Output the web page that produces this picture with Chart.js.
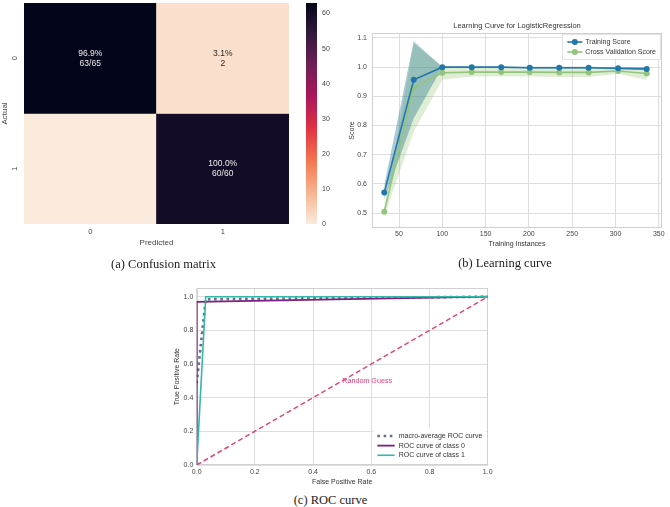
<!DOCTYPE html>
<html>
<head>
<meta charset="utf-8">
<script src="https://cdn.jsdelivr.net/npm/chart.js@4.4.0/dist/chart.umd.min.js"></script>
<style>
  html, body { margin: 0; padding: 0; background: #fff; width: 670px; height: 507px; overflow: hidden; }
  canvas { position: absolute; }
  .cap { position: absolute; font-family: "Liberation Serif", "DejaVu Serif", serif; font-size: 12.5px;
         color: #222; white-space: nowrap; transform: translate(-50%, -50%); }
</style>
</head>
<body>
<canvas id="cm" width="300" height="250" style="left:0;top:0"></canvas>
<canvas id="cbar" width="40" height="250" style="left:300px;top:0"></canvas>
<canvas id="lc" width="330" height="252" style="left:340px;top:0"></canvas>
<canvas id="roc" width="340" height="220" style="left:160px;top:270px"></canvas>
<div class="cap" style="left:163.5px;top:264px">(a) Confusion matrix</div>
<div class="cap" style="left:505px;top:263px">(b) Learning curve</div>
<div class="cap" style="left:330.5px;top:500px">(c) ROC curve</div>
<script>
// ---- confusion matrix ----
const cmClasses = ['0', '1'];
const cmCounts = [[63, 2], [0, 60]];          // rows: actual, cols: predicted
const cbTicks = [0, 10, 20, 30, 40, 50, 60];

// ---- learning curve ----
const trainSizes = [33, 67, 100, 134, 168, 201, 235, 269, 303, 336];
const trainMean = [0.571, 0.957, 1.0, 1.0, 1.0, 0.998, 0.998, 0.998, 0.996, 0.994];
const trainStd = [0.025, 0.132, 0.0, 0.0, 0.0, 0.003, 0.003, 0.003, 0.004, 0.005];
const cvMean = [0.505, 0.930, 0.981, 0.983, 0.983, 0.983, 0.982, 0.982, 0.987, 0.978];
const cvStd = [0.015, 0.15, 0.024, 0.015, 0.015, 0.015, 0.016, 0.016, 0.01, 0.022];
const lcXTicks = [50, 100, 150, 200, 250, 300, 350];
const lcYTicks = [0.5, 0.6, 0.7, 0.8, 0.9, 1.0, 1.1];

// ---- ROC ----
const macroFpr = [0, 0.031, 1];
const macroTpr = [0.485, 0.985, 1];
const class0Fpr = [0, 0, 1];
const class0Tpr = [0, 0.969, 1];
const class1Fpr = [0, 0.031, 1];
const class1Tpr = [0, 1, 1];
const guessFpr = [0, 1];
const guessTpr = [0, 1];
const rocTicks = [0, 0.2, 0.4, 0.6, 0.8, 1.0];

const FONT = '"Liberation Sans", Arial, sans-serif';
Chart.defaults.font.family = FONT;
Chart.defaults.color = '#444';
Chart.defaults.animation = false;
Chart.defaults.responsive = false;
Chart.defaults.devicePixelRatio = 1;
Chart.defaults.plugins.legend.display = false;
Chart.defaults.plugins.tooltip.enabled = false;

// rocket colormap, t=0 dark .. t=1 light
const rocketStops = [
  [0, '#03051a'], [1 / 7, '#35193e'], [2 / 7, '#701f57'], [3 / 7, '#ad1759'],
  [4 / 7, '#e13342'], [5 / 7, '#f37651'], [6 / 7, '#f6b48f'], [1, '#faebdd']
];
function hex(c) { return [1, 3, 5].map(i => parseInt(c.substr(i, 2), 16)); }
function rocketR(x) {            // x=0 light, x=1 dark
  const t = 1 - x;
  for (let i = 1; i < rocketStops.length; i++) {
    const [t1, c1] = rocketStops[i];
    if (t <= t1) {
      const [t0, c0] = rocketStops[i - 1];
      const f = (t - t0) / (t1 - t0);
      const a = hex(c0), b = hex(c1);
      return 'rgb(' + a.map((v, k) => Math.round(v + (b[k] - v) * f)).join(',') + ')';
    }
  }
  return rocketStops[rocketStops.length - 1][1];
}
const cmMax = Math.max(...cmCounts.flat());

const cellText = {
  id: 'cellText',
  afterDatasetsDraw(chart) {
    const ctx = chart.ctx;
    ctx.save();
    ctx.font = '8.5px ' + FONT;
    ctx.textAlign = 'center';
    ctx.textBaseline = 'middle';
    cmCounts.forEach((row, r) => {
      const total = row.reduce((s, v) => s + v, 0);
      const meta = chart.getDatasetMeta(r);
      row.forEach((v, c) => {
        if (!v) return;
        const el = meta.data[c];
        const cy = (el.y + el.base) / 2;
        ctx.fillStyle = v / cmMax > 0.5 ? '#eeeeee' : '#262626';
        ctx.fillText((100 * v / total).toFixed(1) + '%', el.x, cy - 5);
        ctx.fillText(r === c ? v + '/' + total : String(v), el.x, cy + 5);
      });
    });
    ctx.restore();
  }
};

new Chart(document.getElementById('cm'), {
  type: 'bar',
  data: {
    labels: cmClasses,
    datasets: cmCounts.map((row, r) => ({
      label: 'Actual ' + cmClasses[r],
      data: row.map(() => [r, r + 1]),
      backgroundColor: row.map(v => rocketR(v / cmMax)),
      borderWidth: 0, barPercentage: 1, categoryPercentage: 1, grouped: false
    }))
  },
  options: {
    layout: { padding: { left: 0, top: 3, right: 11, bottom: 0 } },
    scales: {
      x: {
        grid: { display: false, drawTicks: false }, border: { display: false },
        ticks: { padding: 3.5, font: { size: 7.5 } },
        title: { display: true, text: 'Predicted', font: { size: 8 }, padding: { top: 0, bottom: 2 } },
        afterFit: s => { s.height = 26; s.paddingLeft = 0; s.paddingRight = 0; }
      },
      y: {
        type: 'linear', reverse: true, min: 0, max: 2,
        grid: { display: false, drawTicks: false }, border: { display: false },
        afterBuildTicks: s => { s.ticks = cmClasses.map((c, i) => ({ value: i + 0.5 })); },
        ticks: { callback: v => cmClasses[Math.floor(v)], minRotation: 90, maxRotation: 90,
                 crossAlign: 'center', padding: 7, font: { size: 7.5 } },
        title: { display: true, text: 'Actual', font: { size: 8 }, padding: { top: 0, bottom: 0 } },
        afterFit: s => { s.width = 24; s.paddingTop = 0; s.paddingBottom = 0; }
      }
    }
  },
  plugins: [cellText]
});

new Chart(document.getElementById('cbar'), {
  type: 'bar',
  data: {
    labels: [''],
    datasets: [{
      data: [cmMax], borderWidth: 0, barPercentage: 1, categoryPercentage: 1,
      backgroundColor: c => {
        const a = c.chart.chartArea;
        if (!a) return rocketR(0.5);
        const g = c.chart.ctx.createLinearGradient(0, a.bottom, 0, a.top);
        rocketStops.forEach(([t, col]) => g.addColorStop(1 - t, col));
        return g;
      }
    }]
  },
  options: {
    layout: { padding: { left: 6, top: 3, right: 0, bottom: 26 } },
    scales: {
      x: { display: false },
      y: {
        position: 'right', min: 0, max: cmMax,
        grid: { display: false, drawTicks: false }, border: { display: false },
        afterBuildTicks: s => { s.ticks = cbTicks.map(v => ({ value: v })); },
        ticks: { padding: 5, font: { size: 7 } },
        afterFit: s => { s.width = 23; s.paddingTop = 0; s.paddingBottom = 0; }
      }
    }
  }
});

// frame around plot area
const frame = {
  id: 'frame',
  beforeDatasetsDraw(chart) {
    const { ctx, chartArea: a } = chart;
    ctx.save();
    ctx.strokeStyle = '#d0d0d0';
    ctx.lineWidth = 1;
    ctx.strokeRect(Math.round(a.left) + 0.5, Math.round(a.top) + 0.5,
                   Math.round(a.right - a.left) - 1, Math.round(a.bottom - a.top) - 1);
    ctx.restore();
  }
};

// legend drawn inside the plot area
const insideLegend = {
  id: 'insideLegend',
  afterDatasetsDraw(chart, args, o) {
    const { ctx, chartArea: a } = chart;
    const items = chart.data.datasets.filter(d => d.inLegend);
    ctx.save();
    ctx.font = o.fontSize + 'px ' + FONT;
    const tw = Math.max(...items.map(d => ctx.measureText(d.label).width));
    const w = o.padX * 2 + o.sample + o.gap + tw;
    const h = o.padY * 2 + o.row * items.length;
    const x0 = a.right - o.margin - w;
    const y0 = o.top ? a.top + o.margin : a.bottom - o.margin - h;
    ctx.fillStyle = '#fff';
    ctx.fillRect(x0, y0, w, h);
    if (o.border) {
      ctx.strokeStyle = o.border;
      ctx.strokeRect(Math.round(x0) + 0.5, Math.round(y0) + 0.5, Math.round(w) - 1, Math.round(h) - 1);
    }
    items.sort((p, q) => p.inLegend - q.inLegend).forEach((d, i) => {
      const cy = y0 + o.padY + o.row * (i + 0.5);
      const sx = x0 + o.padX;
      ctx.strokeStyle = d.borderColor;
      ctx.lineWidth = d.borderWidth;
      ctx.setLineDash(d.borderDash || []);
      ctx.beginPath(); ctx.moveTo(sx, cy); ctx.lineTo(sx + o.sample, cy); ctx.stroke();
      ctx.setLineDash([]);
      if (d.pointRadius) {
        ctx.fillStyle = d.borderColor;
        ctx.beginPath(); ctx.arc(sx + o.sample / 2, cy, d.pointRadius, 0, Math.PI * 2); ctx.fill();
      }
      ctx.fillStyle = '#333';
      ctx.textAlign = 'left';
      ctx.textBaseline = 'middle';
      ctx.fillText(d.label, sx + o.sample + o.gap, cy);
    });
    ctx.restore();
  }
};

const pts = (xs, ys) => xs.map((x, i) => ({ x, y: ys[i] }));
const TRAIN = '#2277aa', CV = '#93c47d';

new Chart(document.getElementById('lc'), {
  type: 'line',
  data: {
    datasets: [
      { label: 'Training Score', inLegend: 1, data: pts(trainSizes, trainMean), borderColor: TRAIN,
        backgroundColor: TRAIN, borderWidth: 1.6, pointRadius: 3, pointBorderWidth: 0, fill: false },
      { label: 'Cross Validation Score', inLegend: 2, data: pts(trainSizes, cvMean), borderColor: CV,
        backgroundColor: CV, borderWidth: 1.6, pointRadius: 3, pointBorderWidth: 0, fill: false },
      { label: 'train+', data: pts(trainSizes, trainMean.map((m, i) => m + trainStd[i])),
        borderWidth: 0, pointRadius: 0, fill: false },
      { label: 'train-', data: pts(trainSizes, trainMean.map((m, i) => m - trainStd[i])),
        borderWidth: 0, pointRadius: 0, fill: '-1', backgroundColor: 'rgba(25,110,135,0.36)' },
      { label: 'cv+', data: pts(trainSizes, cvMean.map((m, i) => m + cvStd[i])),
        borderWidth: 0, pointRadius: 0, fill: false },
      { label: 'cv-', data: pts(trainSizes, cvMean.map((m, i) => m - cvStd[i])),
        borderWidth: 0, pointRadius: 0, fill: '-1', backgroundColor: 'rgba(140,190,105,0.28)' }
    ]
  },
  options: {
    layout: { padding: { left: 0, top: 0, right: 8, bottom: 0 } },
    plugins: {
      filler: { drawTime: 'beforeDatasetsDraw' },
      title: { display: true, fullSize: false, text: 'Learning Curve for LogisticRegression',
               color: '#333', font: { size: 7.5, weight: 'normal' }, padding: { top: 21.5, bottom: 2.5 } },
      insideLegend: { fontSize: 7, padX: 5, padY: 3, sample: 15, gap: 3, row: 10, margin: 1, top: true, border: '#e2e2e2' }
    },
    scales: {
      x: {
        type: 'linear', min: 18.8, max: 353.7,
        grid: { color: '#dedede', drawTicks: false }, border: { display: false },
        afterBuildTicks: s => { s.ticks = lcXTicks.map(v => ({ value: v })); },
        ticks: { padding: 2, font: { size: 7 } },
        title: { display: true, text: 'Training Instances', color: '#333', font: { size: 7 }, padding: { top: 0, bottom: 3.8 } },
        afterFit: s => { s.height = 24; s.paddingLeft = 0; s.paddingRight = 0; }
      },
      y: {
        min: 0.449, max: 1.117,
        grid: { color: '#dedede', drawTicks: false }, border: { display: false },
        afterBuildTicks: s => { s.ticks = lcYTicks.map(v => ({ value: v })); },
        ticks: { padding: 5, font: { size: 7 }, callback: v => v.toFixed(1) },
        title: { display: true, text: 'Score', color: '#333', font: { size: 7 }, padding: { top: 7.5, bottom: 0 } },
        afterFit: s => { s.width = 32; s.paddingTop = 0; s.paddingBottom = 0; }
      }
    }
  },
  plugins: [frame, insideLegend]
});

const guessLabel = {
  id: 'guessLabel',
  afterDatasetsDraw(chart) {
    const { ctx, scales: { x, y } } = chart;
    ctx.save();
    ctx.font = '7.2px ' + FONT;
    ctx.fillStyle = '#e0457b';
    ctx.textAlign = 'left';
    ctx.textBaseline = 'middle';
    ctx.fillText('Random Guess', x.getPixelForValue(0.5), y.getPixelForValue(0.5));
    ctx.restore();
  }
};

new Chart(document.getElementById('roc'), {
  type: 'scatter',
  data: {
    datasets: [
      { label: 'ROC curve of class 1', inLegend: 3, data: pts(class1Fpr, class1Tpr), showLine: true,
        borderColor: '#33b8aa', borderWidth: 1.6, pointRadius: 0 },
      { label: 'ROC curve of class 0', inLegend: 2, data: pts(class0Fpr, class0Tpr), showLine: true,
        borderColor: '#7e1e80', borderWidth: 1.8, pointRadius: 0 },
      { label: 'macro-average ROC curve', inLegend: 1, data: pts(macroFpr, macroTpr), showLine: true,
        borderColor: 'rgba(70,85,120,0.85)', borderWidth: 2.6, borderDash: [2.6, 3.6], pointRadius: 0 },
      { label: 'Random Guess', data: pts(guessFpr, guessTpr), showLine: true,
        borderColor: '#e0457b', borderWidth: 1.5, borderDash: [5, 3], pointRadius: 0 }
    ]
  },
  options: {
    layout: { padding: { left: 0, top: 18.3, right: 12.3, bottom: 0 } },
    plugins: {
      insideLegend: { fontSize: 7, padX: 3.7, padY: 3.2, sample: 17.3, gap: 4, row: 9.65, margin: 1.7, top: false }
    },
    scales: {
      x: {
        type: 'linear', min: 0, max: 1,
        grid: { color: '#dedede', drawTicks: false }, border: { display: false },
        afterBuildTicks: s => { s.ticks = rocTicks.map(v => ({ value: v })); },
        ticks: { padding: 3.1, font: { size: 7 }, callback: v => v.toFixed(1) },
        title: { display: true, text: 'False Positive Rate', color: '#333', font: { size: 7 }, padding: { top: 0, bottom: 4.1 } },
        afterFit: s => { s.height = 25; s.paddingLeft = 0; s.paddingRight = 0; }
      },
      y: {
        type: 'linear', min: 0, max: 1.05,
        grid: { color: '#dedede', drawTicks: false }, border: { display: false },
        afterBuildTicks: s => { s.ticks = rocTicks.map(v => ({ value: v })); },
        ticks: { padding: 3.4, font: { size: 7 }, callback: v => v.toFixed(1) },
        title: { display: true, text: 'True Positive Rate', color: '#333', font: { size: 7 }, padding: { top: 12.5, bottom: 0 } },
        afterFit: s => { s.width = 36.7; s.paddingTop = 0; s.paddingBottom = 0; }
      }
    }
  },
  plugins: [frame, insideLegend, guessLabel]
});
</script>
</body>
</html>
